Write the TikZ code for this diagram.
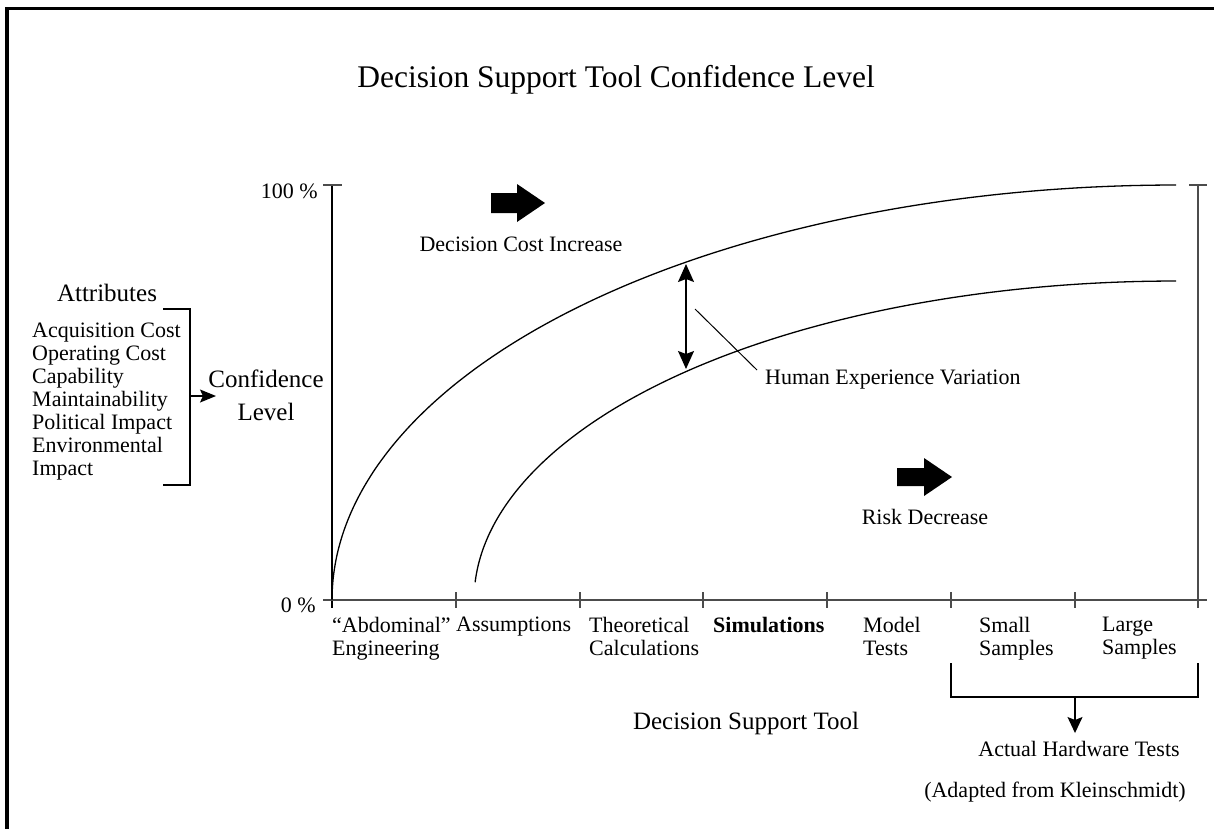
\documentclass[tikz,border=0pt]{standalone}
\usepackage{fontspec}
\setmainfont{Liberation Serif}
\usetikzlibrary{arrows.meta}
\newcommand\fszA{\fontsize{22}{23}\selectfont}
\newcommand\fszB{\fontsize{25}{33}\selectfont}
\newcommand\fszT{\fontsize{31.5}{36}\selectfont}
\begin{document}
\begin{tikzpicture}[x=1pt,y=-1pt,
  lbl/.style={inner sep=0pt,font=\fszA},
  lblbig/.style={inner sep=0pt,font=\fszB},
  axisline/.style={line width=1.8pt,black!70},
  yaxisline/.style={line width=1.6pt,black},
  curve/.style={line width=1.3pt,black},
  thin/.style={line width=1.3pt,black},
  blockarrow/.style={fill=black,draw=none},
]
\useasboundingbox (0,0) rectangle (1214,828);
% frame
\draw[line width=3.5pt] (7,830) -- (7,8.5) -- (1216,8.5);

% title
\node[inner sep=0pt,font=\fszT] (title) at (616,80) {Decision Support Tool Confidence Level};

% axes
\draw[yaxisline] (332,185) -- (332,608);
\draw[axisline] (323,185) -- (342,185);
\draw[axisline] (323,600) -- (1207,600);
\foreach \xx in {456,580,703,827,951,1075,1198}
  \draw[axisline] (\xx,592) -- (\xx,608);
\draw[axisline] (1198,185) -- (1198,608);
\draw[axisline] (1189,185) -- (1207,185);

\node[lbl,anchor=east] (p100) at (318,191) {100 \%};
\node[lbl,anchor=east] (p0) at (316,605) {0 \%};

% curves
\draw[curve] plot[domain=180:90,samples=120,smooth] ({1176+844*cos(\x)},{600-415*sin(\x)});
\draw[curve] plot[domain=176.8:90,samples=120,smooth] ({1176+702*cos(\x)},{600-319*sin(\x)});

% variation arrow
\coordinate (vt) at (686,264);
\coordinate (vb) at (686,369);
\draw[thin,{Stealth[length=18pt,width=16pt,inset=3pt]}-{Stealth[length=18pt,width=16pt,inset=3pt]}] (vt) -- (vb);
\node[lbl,anchor=north west] (hev) at (765,370) {Human Experience Variation};
\coordinate (lead) at (695,309);
\draw[line width=1pt] (lead) -- ([xshift=-8pt]hev.north west);

% block arrows
\fill[blockarrow] (491,193) -- (517,193) -- (517,184) -- (545,203) -- (517,222) -- (517,213) -- (491,213) -- cycle;
\node[lbl] (dci) at (521,244) {Decision Cost Increase};
\fill[blockarrow] (897,468) -- (924,468) -- (924,458) -- (952,477) -- (924,496) -- (924,486) -- (897,486) -- cycle;
\node[lbl] (rd) at (925,517) {Risk Decrease};

% attributes
\node[lblbig] (attr) at (107,293) {Attributes};
\node[lbl,anchor=north west,align=left] (attrlist) at (32,323)
  {Acquisition Cost\\Operating Cost\\Capability\\Maintainability\\Political Impact\\Environmental\\Impact};
\draw[thin] (163,309) -- (190,309) -- (190,485) -- (163,485);
\coordinate (brm) at (190,396);
\node[lblbig,align=center] (conf) at (266,395) {Confidence\\Level};
\draw[thin,-{Stealth[length=16pt,width=13pt,inset=3pt]}] (brm) -- (216,396);

% x labels
\node[lbl,anchor=north west,align=left] (xl1) at (332,617) {“Abdominal”\\Engineering};
\node[lbl,anchor=north west] (xl2) at (456,617) {Assumptions};
\node[lbl,anchor=north west,align=left] (xl3) at (589,617) {Theoretical\\Calculations};
\node[lbl,anchor=north west,font=\fszA\bfseries] (xl4) at (713,617) {Simulations};
\node[lbl,anchor=north west,align=left] (xl5) at (863,617) {Model\\Tests};
\node[lbl,anchor=north west,align=left] (xl6) at (979,617) {Small\\Samples};
\node[lbl,anchor=north west,align=left] (xl7) at (1102,617) {Large\\Samples};

\node[lblbig] (dst) at (746,723) {Decision Support Tool};

% hardware bracket
\draw[thin] (951,663) -- (951,697) -- (1198,697) -- (1198,663);
\coordinate (hwb) at (1075,697);
\coordinate (hwt) at (1075,733);
\node[lbl] (hw) at (1079,749) {Actual Hardware Tests};
\draw[thin,-{Stealth[length=16pt,width=15pt,inset=3pt]}] (hwb) -- (hwt);
\node[lbl] (src) at (1055,792) {(Adapted from Kleinschmidt)};
\end{tikzpicture}
\end{document}
